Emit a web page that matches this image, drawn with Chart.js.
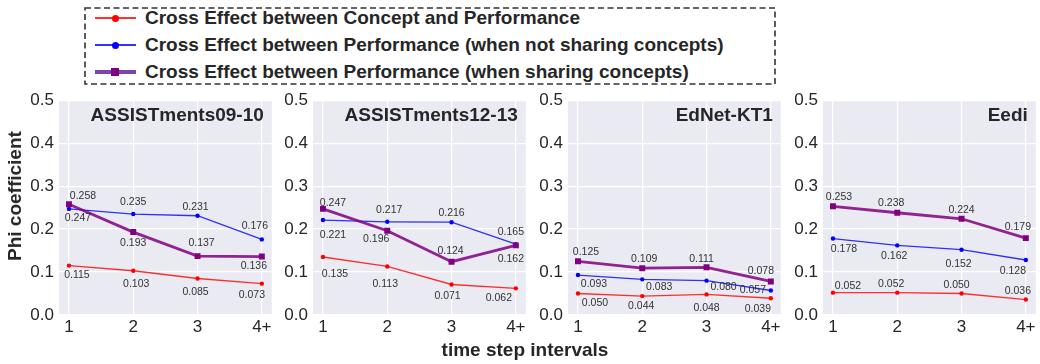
<!DOCTYPE html>
<html>
<head>
<meta charset="utf-8">
<script src="https://cdn.jsdelivr.net/npm/chart.js@4.4.1/dist/chart.umd.min.js"></script>
<style>
    body { margin: 0; background: #fff; }
    #fig { position: relative; width: 1040px; height: 364px; font-family: 'Liberation Sans', Arial, sans-serif; color: #262626; overflow: hidden; }
    .panel { position: absolute; top: 85px; }
    #legend { position: absolute; left: 84px; top: 7px; width: 692px; height: 78px; }
    #legend svg { position: absolute; left: 0; top: 0; }
    .row { position: absolute; left: 0; width: 680px; height: 22px; }
    .row .ln { position: absolute; left: 11px; width: 41px; }
    .row .mk { position: absolute; }
    .row .txt { position: absolute; left: 61px; top: 0; font-weight: bold; font-size: 19px; line-height: 22px; white-space: nowrap; color: #262626; }
    .axis-title { position: absolute; font-weight: bold; font-size: 19px; white-space: nowrap; }
</style>
</head>
<body>
<div id="fig">
    <div id="legend">
        <svg width="692" height="78"><rect x="1" y="1" width="690" height="76" fill="none" stroke="#333" stroke-width="1.6" stroke-dasharray="6,3.5"/></svg>
    </div>
    <canvas id="c0" class="panel"></canvas>
    <canvas id="c1" class="panel"></canvas>
    <canvas id="c2" class="panel"></canvas>
    <canvas id="c3" class="panel"></canvas>
    <div class="axis-title" style="left:15px; top:196px; transform:translate(-50%,-50%) rotate(-90deg);">Phi coefficient</div>
    <div class="axis-title" style="left:525px; top:350px; transform:translate(-50%,-50%);">time step intervals</div>
</div>
<script>
// categories and tick labels
const categories = ['1', '2', '3', '4+'];
const yTicks = [0, 0.1, 0.2, 0.3, 0.4, 0.5];
const panelTitles = ['ASSISTments09-10', 'ASSISTments12-13', 'EdNet-KT1', 'Eedi'];
const seriesNames = [
    'Cross Effect between Concept and Performance',
    'Cross Effect between Performance (when not sharing concepts)',
    'Cross Effect between Performance (when sharing concepts)'
];

// one row per dataset panel
const crossConcept = [
    [0.115, 0.103, 0.085, 0.073],
    [0.135, 0.113, 0.071, 0.062],
    [0.050, 0.044, 0.048, 0.039],
    [0.052, 0.052, 0.050, 0.036]
];
const crossNotShared = [
    [0.247, 0.235, 0.231, 0.176],
    [0.221, 0.217, 0.216, 0.165],
    [0.093, 0.083, 0.080, 0.057],
    [0.178, 0.162, 0.152, 0.128]
];
const crossShared = [
    [0.258, 0.193, 0.137, 0.136],
    [0.247, 0.196, 0.124, 0.162],
    [0.125, 0.109, 0.111, 0.078],
    [0.253, 0.238, 0.224, 0.179]
];

// value label nudges [dx, dy] in px, per panel / series / point
const labelNudge = [
    [[[8, 10], [3, 13], [-2, 14], [-10, 11]], [[9, 9], [0, -12], [-2, -9], [-7, -13]], [[14, -8], [0, 11], [4, -13], [-8, 10]]],
    [[[12, 17], [-2, 18], [-4, 12], [-17, 10]], [[10, 15], [2, -12], [0, -9], [-5, -12]], [[10, -6], [-11, 8], [-1, -11], [-5, 14]]],
    [[[17, 10], [-1, 10], [0, 14], [-13, 11]], [[16, 9], [17, 8], [17, 6], [-18, 0]], [[8, -9], [2, -9], [-5, -8], [-10, -10]]],
    [[[15, -7], [-6, -9], [-5, -8], [-8, -8]], [[11, 11], [-3, 11], [-3, 14], [-13, 11]], [[6, -9], [-6, -10], [0, -9], [-8, -11]]]
];

const FONT = "'Liberation Sans', Arial, sans-serif";
const lineColors = ['rgba(255,0,0,0.8)', 'rgba(0,0,255,0.8)', 'rgba(128,0,128,0.85)'];
const markColors = ['#ff0000', '#0000ff', '#800080'];
const plotLefts = [59, 313, 568, 823];
const Y_AXIS_W = 50;
const PLOT_W = 214;

const panelBackground = {
    id: 'panelBackground',
    beforeDraw(chart) {
        const a = chart.chartArea;
        chart.ctx.save();
        chart.ctx.fillStyle = '#eaeaf2';
        chart.ctx.fillRect(a.left, a.top, a.right - a.left, a.bottom - a.top);
        chart.ctx.restore();
    }
};

const panelTitle = {
    id: 'panelTitle',
    afterDraw(chart, args, opts) {
        const ctx = chart.ctx;
        ctx.save();
        ctx.font = 'bold 19px ' + FONT;
        ctx.fillStyle = '#262626';
        ctx.textAlign = 'right';
        ctx.textBaseline = 'middle';
        ctx.fillText(opts.text, chart.chartArea.right - 8, chart.chartArea.top + 16);
        ctx.restore();
    }
};

const valueLabels = {
    id: 'valueLabels',
    afterDatasetsDraw(chart, args, opts) {
        const ctx = chart.ctx;
        ctx.save();
        ctx.font = '10.5px ' + FONT;
        ctx.fillStyle = '#333';
        ctx.textAlign = 'center';
        ctx.textBaseline = 'middle';
        chart.data.datasets.forEach((ds, s) => {
            const meta = chart.getDatasetMeta(s);
            meta.data.forEach((pt, i) => {
                const n = opts.nudges[s][i];
                ctx.fillText(ds.data[i].y.toFixed(3), pt.x + n[0], pt.y + n[1]);
            });
        });
        ctx.restore();
    }
};

function makePanel(p) {
    const canvas = document.getElementById('c' + p);
    canvas.width = Y_AXIS_W + PLOT_W + 3;
    canvas.height = 279;
    canvas.style.left = (plotLefts[p] - Y_AXIS_W) + 'px';

    const series = [crossConcept[p], crossNotShared[p], crossShared[p]];
    return new Chart(canvas, {
        type: 'line',
        data: {
            datasets: series.map((vals, s) => ({
                label: seriesNames[s],
                data: vals.map((v, i) => ({ x: i + 1, y: v })),
                borderColor: lineColors[s],
                backgroundColor: markColors[s],
                pointBackgroundColor: markColors[s],
                pointBorderColor: markColors[s],
                pointBorderWidth: 0,
                borderWidth: s === 2 ? 2.8 : 1.3,
                pointStyle: s === 2 ? 'rect' : 'circle',
                pointRadius: s === 2 ? 4.2 : 2.2,
                order: 2 - s,
                tension: 0,
                fill: false
            }))
        },
        options: {
            responsive: false,
            animation: false,
            layout: { padding: { top: 15, right: 3, left: 0, bottom: 0 } },
            plugins: {
                legend: { display: false },
                tooltip: { enabled: false },
                panelTitle: { text: panelTitles[p] },
                valueLabels: { nudges: labelNudge[p] }
            },
            scales: {
                x: {
                    type: 'linear',
                    min: 0.845,
                    max: 4.155,
                    afterBuildTicks: scale => { scale.ticks = categories.map((c, i) => ({ value: i + 1 })); },
                    afterFit: scale => { scale.height = 49; },
                    ticks: {
                        callback: v => categories[Math.round(v) - 1],
                        color: '#262626',
                        font: { size: 17, family: FONT },
                        padding: 2,
                        maxRotation: 0,
                        autoSkip: false
                    },
                    grid: { color: '#ffffff', lineWidth: 1.2, drawTicks: false },
                    border: { display: false }
                },
                y: {
                    min: 0,
                    max: 0.5,
                    afterBuildTicks: scale => { scale.ticks = yTicks.map(v => ({ value: v })); },
                    afterFit: scale => { scale.width = Y_AXIS_W; },
                    ticks: {
                        callback: v => v.toFixed(1),
                        color: '#262626',
                        font: { size: 17, family: FONT },
                        padding: 5
                    },
                    grid: { color: '#ffffff', lineWidth: 1.2, drawTicks: false },
                    border: { display: false }
                }
            }
        },
        plugins: [panelBackground, panelTitle, valueLabels]
    });
}

// Legend rows (html text, marker drawn with divs)
function buildLegend() {
    const box = document.getElementById('legend');
    seriesNames.forEach((name, s) => {
        const row = document.createElement('div');
        row.className = 'row';
        row.style.top = (0 + s * 27) + 'px';
        const ln = document.createElement('div');
        ln.className = 'ln';
        const lw = s === 2 ? 4 : 2.6;
        ln.style.height = lw + 'px';
        ln.style.top = (11 - lw / 2) + 'px';
        ln.style.background = s === 2 ? 'rgba(112,48,160,0.9)' : lineColors[s];
        const mk = document.createElement('div');
        mk.className = 'mk';
        const ms = s === 2 ? 8 : 7;
        mk.style.width = ms + 'px';
        mk.style.height = ms + 'px';
        mk.style.left = (31 - ms / 2) + 'px';
        mk.style.top = (11 - ms / 2) + 'px';
        mk.style.background = markColors[s];
        mk.style.borderRadius = s === 2 ? '0' : '50%';
        const txt = document.createElement('div');
        txt.className = 'txt';
        txt.textContent = name;
        row.appendChild(ln);
        row.appendChild(mk);
        row.appendChild(txt);
        box.appendChild(row);
    });
}

document.addEventListener('DOMContentLoaded', function() {
    buildLegend();
    for (let p = 0; p < 4; p++) makePanel(p);
});
</script>
</body>
</html>
